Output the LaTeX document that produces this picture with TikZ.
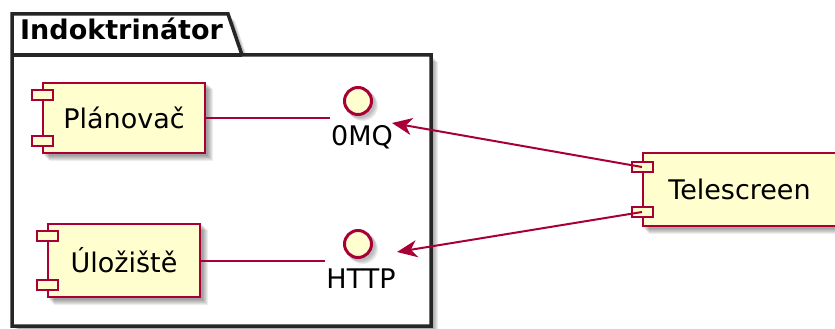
\documentclass[tikz,border=0pt]{standalone}
\usepackage{fontspec}
\setmainfont{DejaVu Sans}
\usetikzlibrary{arrows.meta}
\definecolor{umlred}{HTML}{A80036}
\definecolor{umlfill}{HTML}{FEFECE}
\pgfdeclarelayer{frame}
\pgfdeclarelayer{shade}
\pgfsetlayers{frame,shade,main}
\newcommand\umlfont{\fontsize{27}{32}\selectfont}
\tikzset{
  comp/.style={draw=umlred, fill=umlfill, line width=2pt, inner sep=0pt, font=\umlfont},
  comptab/.style={draw=umlred, fill=umlfill, line width=2pt, inner sep=0pt,
    minimum width=21pt, minimum height=10pt},
  iface/.style={circle, draw=umlred, fill=umlfill, line width=3pt, inner sep=0pt,
    minimum size=27pt},
  ilabel/.style={font=\umlfont, anchor=base, inner sep=0pt},
  wire/.style={draw=umlred, line width=2pt},
  use/.style={wire, -{Stealth[length=20pt,width=17pt,inset=6pt]}},
  pkg/.style={draw=black!85, line width=3.5pt, line join=miter},
  softshadow/.style={fill=black, opacity=0.07},
}
% soft drop shadow behind a rectangular node
\newcommand\boxshadow[1]{%
  \foreach \o in {2,3,4,5,6,7}{%
    \fill[softshadow] ([shift={(\o,\o)}]#1.north west) rectangle ([shift={(\o,\o)}]#1.south east);}}
% soft drop shadow behind a round node
\newcommand\roundshadow[1]{%
  \foreach \o in {2,3,4,5}{%
    \fill[softshadow] ([shift={(\o,\o)}]#1.center) circle (15);}}
\begin{document}
\begin{tikzpicture}[x=1pt,y=-1pt]
\useasboundingbox (0,0) rectangle (835,329);

% package title
\node[font=\umlfont\bfseries, anchor=base west, inner sep=0pt] (pkgtitle) at (20,40) {Indoktrinátor};

% components
\node[comp, minimum width=162pt, minimum height=70pt] (plan) at (124,118) {Plánovač};
\node[comp, minimum width=152pt, minimum height=73pt] (store) at (124,260.5) {Úložiště};
\node[comp, minimum width=193pt, minimum height=73pt] (tele) at (739.5,189.5) {Telescreen};

% component tabs
\node[comptab] (plan-t1) at ([yshift=-13pt]plan.north west) {};
\node[comptab] (plan-t2) at ([yshift=13pt]plan.south west) {};
\node[comptab] (store-t1) at ([yshift=-13pt]store.north west) {};
\node[comptab] (store-t2) at ([yshift=13pt]store.south west) {};
\node[comptab] (tele-t1) at ([yshift=-15pt]tele.north west) {};
\node[comptab] (tele-t2) at ([yshift=15pt]tele.south west) {};

% provided interfaces
\node[iface] (zmq) at (358,101) {};
\node[ilabel] (zmq-l) at (362,145) {0MQ};
\node[iface] (http) at (358,244) {};
\node[ilabel] (http-l) at (361,288) {HTTP};

% connectors
\coordinate (zmq-in) at (330,118);
\coordinate (http-in) at (325,260.5);
\coordinate (zmq-tip) at (392,123);
\coordinate (http-tip) at (397,252);
\draw[wire] (plan.east) -- (zmq-in);
\draw[wire] (store.east) -- (http-in);
\draw[use] (tele-t1.center) -- (zmq-tip);
\draw[use] (tele-t2.center) -- (http-tip);

% package "Indoktrinátor" with its shadow, under everything else
\begin{pgfonlayer}{frame}
  \foreach \o in {2,3,4,5,6,7}{%
    \fill[softshadow] ([shift={(\o,\o)}]12,326) -- ([shift={(\o,\o)}]12,14) -- ([shift={(\o,\o)}]228,14)
      -- ([shift={(\o,\o)}]242,55) -- ([shift={(\o,\o)}]431,55) -- ([shift={(\o,\o)}]431,326) -- cycle;}
  \filldraw[pkg, fill=white] (12,326) -- (12,14) -- (228,14) -- (242,55) -- (431,55) -- (431,326) -- cycle;
  \draw[pkg] (12,55) -- (242,55);
\end{pgfonlayer}

% shadows of the shapes
\begin{pgfonlayer}{shade}
  \boxshadow{plan}
  \boxshadow{store}
  \boxshadow{tele}
  \roundshadow{zmq}
  \roundshadow{http}
\end{pgfonlayer}
\end{tikzpicture}
\end{document}
